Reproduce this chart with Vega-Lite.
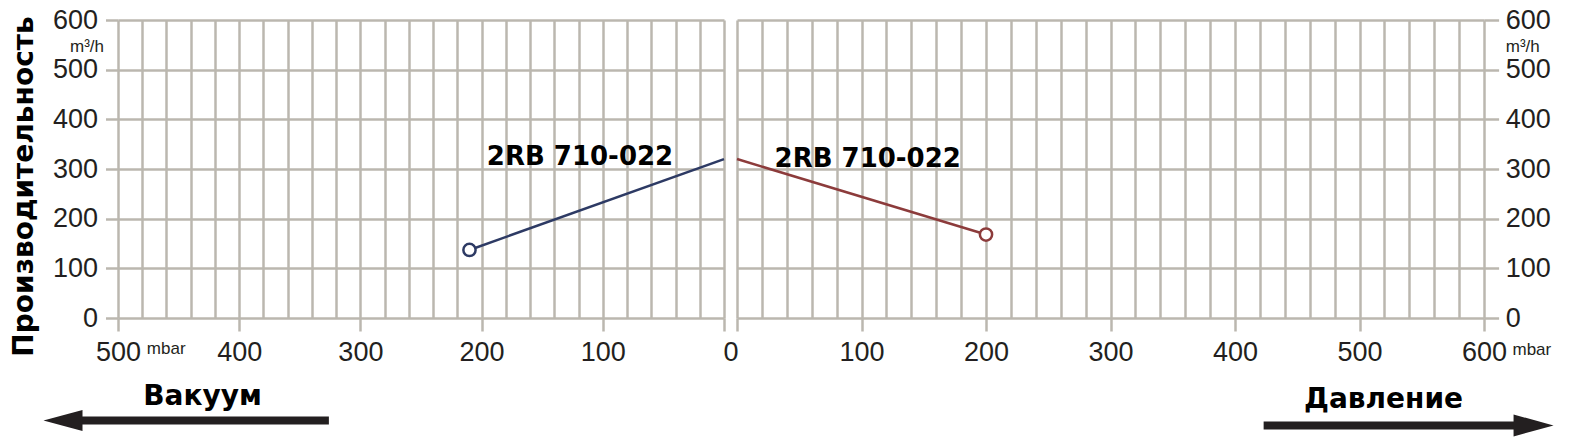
{
  "$schema": "https://vega.github.io/schema/vega-lite/v6.json",
  "padding": {"left": 10, "top": 6, "right": 0, "bottom": 0},
  "background": "white",
  "bounds": "flush",
  "spacing": 13,
  "config": {
    "view": {"stroke": null},
    "axis": {
      "domain": false,
      "labelFont": "Liberation Sans",
      "labelFontSize": 27,
      "labelColor": "#231f20",
      "tickColor": "#bbb7af",
      "tickWidth": 2.5,
      "gridColor": "#bbb7af",
      "gridWidth": 2.5,
      "gridOpacity": 1,
      "labelFlush": false,
      "labelOverlap": false
    }
  },
  "datasets": {
    "vac_curve": [{"mbar": 0, "flow": 320}, {"mbar": 210, "flow": 137}],
    "vac_end": [{"mbar": 210, "flow": 137}],
    "vac_label": [{"mbar": 118.8, "flow": 309, "label": "2RB 710-022"}],
    "vac_arrow": [{"mbar": 326, "mbar2": 535, "flow": -206.4}],
    "vac_head": [{"mbar": 545.4, "flow": -206.4}],
    "vac_word": [{"mbar": 430.3, "flow": -174.2, "label": "Вакуум"}],
    "press_curve": [{"mbar": 0, "flow": 320}, {"mbar": 200, "flow": 168}],
    "press_end": [{"mbar": 200, "flow": 168}],
    "press_label": [{"mbar": 105, "flow": 303.6, "label": "2RB 710-022"}],
    "press_arrow": [{"mbar": 423, "mbar2": 630, "flow": -216.4}],
    "press_head": [{"mbar": 639.8, "flow": -216.4}],
    "press_word": [{"mbar": 519.3, "flow": -182.2, "label": "Давление"}]
  },
  "hconcat": [
    {
      "width": 606,
      "height": 298,
      "resolve": {"axis": {"x": "independent", "y": "independent"}},
      "layer": [
        {
          "data": {"name": "vac_curve"},
          "mark": {"type": "line", "color": "#2d3a64", "strokeWidth": 2.5},
          "encoding": {
            "x": {"field": "mbar", "type": "quantitative",
              "scale": {"domain": [0, 500], "reverse": true, "nice": false, "zero": false},
              "axis": {"orient": "bottom", "values": [0,20,40,60,80,100,120,140,160,180,200,220,240,260,280,300,320,340,360,380,400,420,440,460,480,500],
                "grid": true, "ticks": false, "labels": false, "title": null}},
            "y": {"field": "flow", "type": "quantitative",
              "scale": {"domain": [0, 600], "nice": false, "zero": false},
              "axis": {"orient": "left", "values": [0,100,200,300,400,500,600], "grid": true,
                "tickSize": 12.5, "labelPadding": 8,
                "title": "Производительность", "titleFont": "DejaVu Sans", "titleFontSize": 28,
                "titleFontWeight": "bold", "titleColor": "#000000",
                "titleX": -85.5, "titleY": 166, "titleAngle": 270,
                "titleBaseline": "alphabetic", "titleAlign": "center"}}
          }
        },
        {
          "data": {"name": "vac_end"},
          "mark": {"type": "circle", "size": 150, "fill": "white", "fillOpacity": 1, "opacity": 1, "stroke": "#2d3a64", "strokeWidth": 2.5},
          "encoding": {
            "x": {"field": "mbar", "type": "quantitative",
              "scale": {"domain": [0, 500], "reverse": true, "nice": false, "zero": false},
              "axis": {"orient": "bottom", "values": [0,100,200,300,400,500], "grid": false,
                "tickSize": 13, "labelPadding": 8,
                "labelExpr": "datum.value == 0 ? '' : datum.label", "title": null}},
            "y": {"field": "flow", "type": "quantitative",
              "scale": {"domain": [0, 600], "nice": false, "zero": false},
              "axis": {"orient": "left", "values": [537], "grid": false, "ticks": false, "tickSize": 0,
                "labelExpr": "'m³/h'", "labelFontSize": 17, "labelPadding": 14.5,
                "labelBaseline": "alphabetic", "title": null}}
          }
        },
        {
          "data": {"name": "vac_label"},
          "mark": {"type": "text", "font": "DejaVu Sans", "fontWeight": "bold", "fontSize": 26, "color": "#000000", "align": "center", "baseline": "alphabetic"},
          "encoding": {
            "x": {"field": "mbar", "type": "quantitative",
              "scale": {"domain": [0, 500], "reverse": true, "nice": false, "zero": false},
              "axis": {"orient": "bottom", "values": [476.6], "grid": false, "ticks": false, "tickSize": 0,
                "labelExpr": "'mbar'", "labelFontSize": 17, "labelAlign": "left",
                "labelBaseline": "alphabetic", "labelPadding": 35.8, "title": null}},
            "y": {"field": "flow", "type": "quantitative",
              "scale": {"domain": [0, 600], "nice": false, "zero": false}, "axis": null},
            "text": {"field": "label"}
          }
        },
        {
          "data": {"name": "vac_arrow"},
          "mark": {"type": "rule", "color": "#231f20", "strokeWidth": 8},
          "encoding": {
            "x": {"field": "mbar", "type": "quantitative",
              "scale": {"domain": [0, 500], "reverse": true, "nice": false, "zero": false}, "axis": null},
            "x2": {"field": "mbar2"},
            "y": {"field": "flow", "type": "quantitative",
              "scale": {"domain": [0, 600], "nice": false, "zero": false}, "axis": null}
          }
        },
        {
          "data": {"name": "vac_head"},
          "mark": {"type": "point", "shape": "M-1,0L1,-0.54L1,0.54Z", "size": 1521, "filled": true, "color": "#231f20", "opacity": 1},
          "encoding": {
            "x": {"field": "mbar", "type": "quantitative",
              "scale": {"domain": [0, 500], "reverse": true, "nice": false, "zero": false}, "axis": null},
            "y": {"field": "flow", "type": "quantitative",
              "scale": {"domain": [0, 600], "nice": false, "zero": false}, "axis": null}
          }
        },
        {
          "data": {"name": "vac_word"},
          "mark": {"type": "text", "font": "DejaVu Sans", "fontWeight": "bold", "fontSize": 28, "color": "#000000", "align": "center", "baseline": "alphabetic"},
          "encoding": {
            "x": {"field": "mbar", "type": "quantitative",
              "scale": {"domain": [0, 500], "reverse": true, "nice": false, "zero": false}, "axis": null},
            "y": {"field": "flow", "type": "quantitative",
              "scale": {"domain": [0, 600], "nice": false, "zero": false}, "axis": null},
            "text": {"field": "label"}
          }
        }
      ]
    },
    {
      "width": 747,
      "height": 298,
      "resolve": {"axis": {"x": "independent", "y": "independent"}},
      "layer": [
        {
          "data": {"name": "press_curve"},
          "mark": {"type": "line", "color": "#8c3b3b", "strokeWidth": 2.5},
          "encoding": {
            "x": {"field": "mbar", "type": "quantitative",
              "scale": {"domain": [0, 600], "nice": false, "zero": false},
              "axis": {"orient": "bottom", "values": [0,20,40,60,80,100,120,140,160,180,200,220,240,260,280,300,320,340,360,380,400,420,440,460,480,500,520,540,560,580,600],
                "grid": true, "ticks": false, "labels": false, "title": null}},
            "y": {"field": "flow", "type": "quantitative",
              "scale": {"domain": [0, 600], "nice": false, "zero": false},
              "axis": {"orient": "right", "values": [0,100,200,300,400,500,600], "grid": true,
                "tickSize": 14.6, "labelPadding": 6.7, "title": null}}
          }
        },
        {
          "data": {"name": "press_end"},
          "mark": {"type": "circle", "size": 150, "fill": "white", "fillOpacity": 1, "opacity": 1, "stroke": "#8c3b3b", "strokeWidth": 2.5},
          "encoding": {
            "x": {"field": "mbar", "type": "quantitative",
              "scale": {"domain": [0, 600], "nice": false, "zero": false},
              "axis": {"orient": "bottom", "values": [0,100,200,300,400,500,600], "grid": false,
                "tickSize": 13, "labelPadding": 8,
                "labelExpr": "datum.value == 0 ? '' : datum.label", "title": null}},
            "y": {"field": "flow", "type": "quantitative",
              "scale": {"domain": [0, 600], "nice": false, "zero": false},
              "axis": {"orient": "right", "values": [537], "grid": false, "ticks": false, "tickSize": 0,
                "labelExpr": "'m³/h'", "labelFontSize": 17, "labelPadding": 21.3,
                "labelAlign": "left", "labelBaseline": "alphabetic", "title": null}}
          }
        },
        {
          "data": {"name": "press_label"},
          "mark": {"type": "text", "font": "DejaVu Sans", "fontWeight": "bold", "fontSize": 26, "color": "#000000", "align": "center", "baseline": "alphabetic"},
          "encoding": {
            "x": {"field": "mbar", "type": "quantitative",
              "scale": {"domain": [0, 600], "nice": false, "zero": false},
              "axis": {"orient": "bottom", "values": [600], "grid": false, "ticks": false, "tickSize": 0,
                "labelExpr": "'mbar'", "labelFontSize": 17, "labelAlign": "left", "labelOffset": 28,
                "labelBaseline": "alphabetic", "labelPadding": 36.5, "title": null}},
            "y": {"field": "flow", "type": "quantitative",
              "scale": {"domain": [0, 600], "nice": false, "zero": false}, "axis": null},
            "text": {"field": "label"}
          }
        },
        {
          "data": {"name": "press_arrow"},
          "mark": {"type": "rule", "color": "#231f20", "strokeWidth": 8},
          "encoding": {
            "x": {"field": "mbar", "type": "quantitative",
              "scale": {"domain": [0, 600], "nice": false, "zero": false},
              "axis": {"orient": "bottom", "values": [0], "grid": false, "ticks": false, "tickSize": 0,
                "labelOffset": -6.5, "labelPadding": 21, "title": null}},
            "x2": {"field": "mbar2"},
            "y": {"field": "flow", "type": "quantitative",
              "scale": {"domain": [0, 600], "nice": false, "zero": false}, "axis": null}
          }
        },
        {
          "data": {"name": "press_head"},
          "mark": {"type": "point", "shape": "M1,0L-1,-0.55L-1,0.55Z", "size": 1600, "filled": true, "color": "#231f20", "opacity": 1},
          "encoding": {
            "x": {"field": "mbar", "type": "quantitative",
              "scale": {"domain": [0, 600], "nice": false, "zero": false}, "axis": null},
            "y": {"field": "flow", "type": "quantitative",
              "scale": {"domain": [0, 600], "nice": false, "zero": false}, "axis": null}
          }
        },
        {
          "data": {"name": "press_word"},
          "mark": {"type": "text", "font": "DejaVu Sans", "fontWeight": "bold", "fontSize": 28, "color": "#000000", "align": "center", "baseline": "alphabetic"},
          "encoding": {
            "x": {"field": "mbar", "type": "quantitative",
              "scale": {"domain": [0, 600], "nice": false, "zero": false}, "axis": null},
            "y": {"field": "flow", "type": "quantitative",
              "scale": {"domain": [0, 600], "nice": false, "zero": false}, "axis": null},
            "text": {"field": "label"}
          }
        }
      ]
    }
  ]
}
